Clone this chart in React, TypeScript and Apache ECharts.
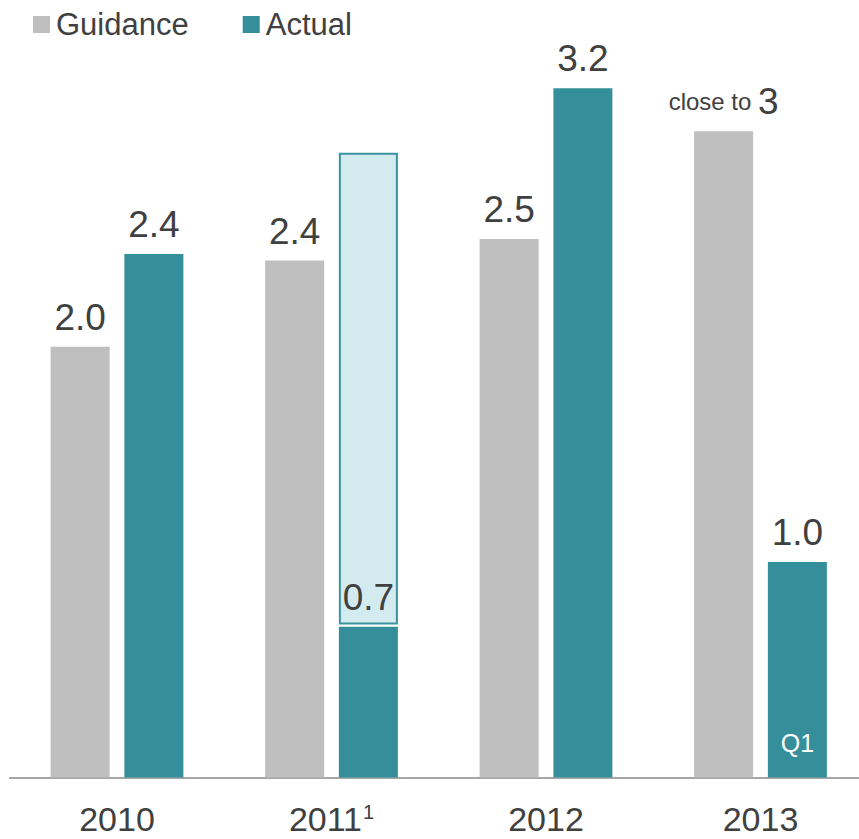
import React, { useEffect, useRef } from "react";
import * as echarts from "echarts";

const categories = ["2010", "2011", "2012", "2013"];
const guidance = [2.0, 2.4, 2.5, 3.0];
const actual = [2.43, 0.7, 3.2, 1.0];
const outlook2011Total = 2.9; // light box top for 2011
const gapValue = 0.01;

const GRAY = "#bfbfbf";
const TEAL = "#358f9b";
const LIGHT = "#d3eaef";
const TEXT = "#404040";
const FONT = "'Liberation Sans', Arial, sans-serif";

export default function App() {
  const ref = useRef<HTMLDivElement>(null);
  useEffect(() => {
    const chart = echarts.init(ref.current!, null, { renderer: "svg" });
    const spacer = categories.map((_, i) => (i === 1 ? gapValue : null));
    const box = categories.map((_, i) => {
      if (i === 1) return { value: outlook2011Total - actual[1] - gapValue };
      if (i === 3)
        return {
          value: 0,
          itemStyle: { color: "transparent", borderWidth: 0 },
          label: { show: true, formatter: actual[3].toFixed(1) },
        };
      return null;
    });
    const valueLabel = {
      show: true,
      position: "top",
      distance: 11,
      fontSize: 37,
      color: TEXT,
      fontFamily: FONT,
    };
    chart.setOption({
      animation: false,
      textStyle: { fontFamily: FONT },
      legend: {
        left: 28,
        top: 4,
        icon: "rect",
        itemWidth: 17,
        itemHeight: 17,
        itemGap: 54,
        data: ["Guidance", "Actual"],
        textStyle: { fontSize: 31, color: TEXT, fontFamily: FONT, padding: [0, 0, 0, 1] },
      },
      grid: { left: 9.75, width: 858, top: 2, bottom: 61.5 },
      xAxis: {
        type: "category",
        data: categories,
        axisLine: { lineStyle: { color: "#a6a6a6", width: 2 } },
        axisTick: { show: false },
        axisLabel: {
          interval: 0,
          margin: 24,
          fontSize: 34,
          color: TEXT,
          fontFamily: FONT,
          formatter: (v: string) => (v === "2011" ? v + "{sup|1}" : v),
          rich: {
            sup: { fontSize: 20, color: TEXT, verticalAlign: "top", padding: [0, 0, 14, 1], fontFamily: FONT },
          },
        },
      },
      yAxis: { type: "value", min: 0, max: 3.6, show: false },
      series: [
        {
          name: "Guidance",
          type: "bar",
          barWidth: 59,
          barGap: "25%",
          itemStyle: { color: GRAY },
          label: {
            ...valueLabel,
            formatter: (p: any) => (p.dataIndex === 3 ? "{s|close to }{b|3}" : p.value.toFixed(1)),
            rich: {
              s: { fontSize: 24, color: TEXT, fontFamily: FONT },
              b: { fontSize: 37, color: TEXT, fontFamily: FONT },
            },
          },
          data: guidance,
        },
        {
          name: "Actual",
          type: "bar",
          stack: "a",
          barWidth: 59,
          itemStyle: { color: TEAL },
          label: {
            ...valueLabel,
            formatter: (p: any) => p.value.toFixed(1),
          },
          data: actual.map((v, i) =>
            i === 3
              ? {
                  value: v,
                  label: {
                    position: "insideBottom",
                    distance: 22,
                    fontSize: 25,
                    color: "#ffffff",
                    formatter: "Q1",
                  },
                }
              : v
          ),
        },
        {
          name: "spacer",
          type: "bar",
          stack: "a",
          barWidth: 59,
          itemStyle: { color: "transparent" },
          data: spacer,
        },
        {
          name: "box",
          type: "bar",
          stack: "a",
          barWidth: 59,
          itemStyle: { color: LIGHT, borderColor: "#3a939e", borderWidth: 2 },
          label: { ...valueLabel, show: false },
          data: box,
        },
      ],
    });
    return () => chart.dispose();
  }, []);
  return (
    <div
      style={{ position: "absolute", left: 0, top: 0, width: 859, height: 839, overflow: "hidden" }}
    >
      <div ref={ref} style={{ width: 868, height: 839 }} />
    </div>
  );
}
